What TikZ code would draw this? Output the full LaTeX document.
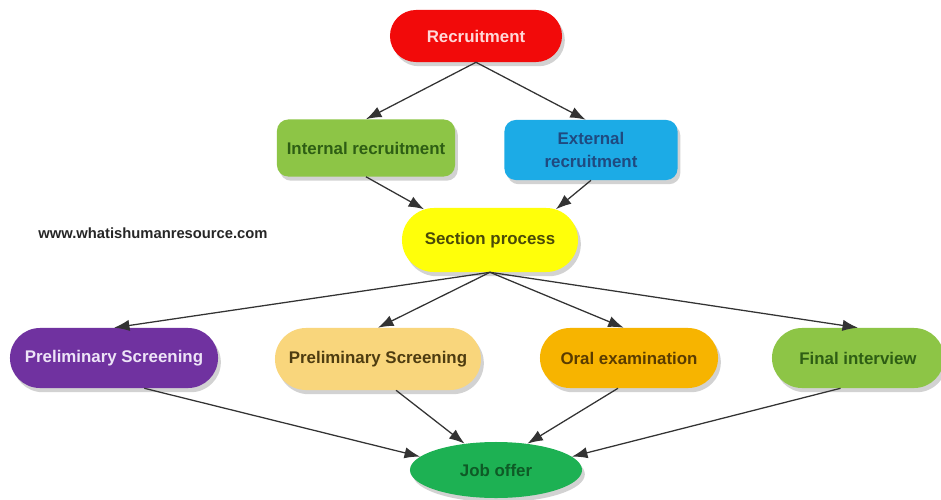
\documentclass[tikz,border=0pt]{standalone}
\usepackage{fontspec}
\setmainfont{Liberation Sans}
\usetikzlibrary{shapes.misc,shapes.geometric,shadows,arrows.meta}
\definecolor{redfill}{HTML}{F20A0A}
\definecolor{redtext}{HTML}{FFD8D8}
\definecolor{leafgreen}{HTML}{8DC546}
\definecolor{leaftext}{HTML}{2E5E14}
\definecolor{skyblue}{HTML}{1CABE6}
\definecolor{skytext}{HTML}{1F4A80}
\definecolor{lemon}{HTML}{FFFF0A}
\definecolor{lemontext}{HTML}{4A4A08}
\definecolor{grape}{HTML}{7032A0}
\definecolor{grapetext}{HTML}{EDE4F7}
\definecolor{sand}{HTML}{F9D67C}
\definecolor{sandtext}{HTML}{4E3C10}
\definecolor{amber}{HTML}{F7B400}
\definecolor{ambertext}{HTML}{5A3C00}
\definecolor{jobgreen}{HTML}{1DB153}
\definecolor{jobtext}{HTML}{0E5A26}
\tikzset{
  stage/.style  = {shape=rounded rectangle, inner sep=0pt, align=center,
                   font=\fontsize{12}{16}\selectfont\bfseries,
                   minimum height=1.5cm,
                   drop shadow={opacity=0.35, shadow xshift=2pt, shadow yshift=-3pt}},
  source/.style = {stage, shape=rectangle, rounded corners=8pt},
  offer/.style  = {stage, shape=ellipse},
  flow/.style   = {every edge/.style={draw=black!80, line width=0.9pt,
                   -{Latex[length=11pt,width=8pt]}}}
}

\begin{document}
\begin{tikzpicture}[x=0.025cm, y=-0.025cm]
  \useasboundingbox[fill=white] (0,0) rectangle (941,500);

  % top of the tree
  \node[stage, fill=redfill, text=redtext, minimum width=4.3cm, minimum height=1.3cm]
    (recruit) at (476,36) {Recruitment};
  \node[source, fill=leafgreen, text=leaftext, minimum width=4.45cm, minimum height=1.425cm]
    (internal) at (366,148) {Internal recruitment};
  \node[source, fill=skyblue, text=skytext, minimum width=4.325cm]
    (external) at (591,150) {External\\recruitment};
  \node[stage, fill=lemon, text=lemontext, minimum width=4.4cm, minimum height=1.6cm]
    (section) at (490,240) {Section process};
  \node[font=\fontsize{10.5}{12}\selectfont\bfseries, text=black!85]
    (site) at (153,233) {www.whatishumanresource.com};

  % selection steps
  \node[stage, fill=grape, text=grapetext, minimum width=5.2cm]
    (screenA) at (114,358) {Preliminary Screening};
  \node[stage, fill=sand, text=sandtext, minimum width=5.15cm, minimum height=1.55cm]
    (screenB) at (378,359) {Preliminary Screening};
  \node[stage, fill=amber, text=ambertext, minimum width=4.45cm]
    (oral) at (629,358) {Oral examination};
  \node[stage, fill=leafgreen, text=leaftext, minimum width=4.3cm]
    (final) at (858,358) {Final interview};
  \node[offer, fill=jobgreen, text=jobtext, minimum width=4.3cm, minimum height=1.4cm]
    (job) at (496,470) {Job offer};

  \path[flow]
    (recruit.south) edge (internal.north)
    (recruit.south) edge (external.100)
    (internal.south) edge (section.155)
    (external.south) edge (section.25)
    \foreach \t/\a in {screenA/north,screenB/north,oral/100,final/north} {
      (section.south) edge (\t.\a)
    }
    (screenA.-45) edge (job.170)
    (screenB.-60) edge (job.140)
    (oral.-110) edge (job.40)
    (final.-120) edge (job.10)
    ;
\end{tikzpicture}
\end{document}
